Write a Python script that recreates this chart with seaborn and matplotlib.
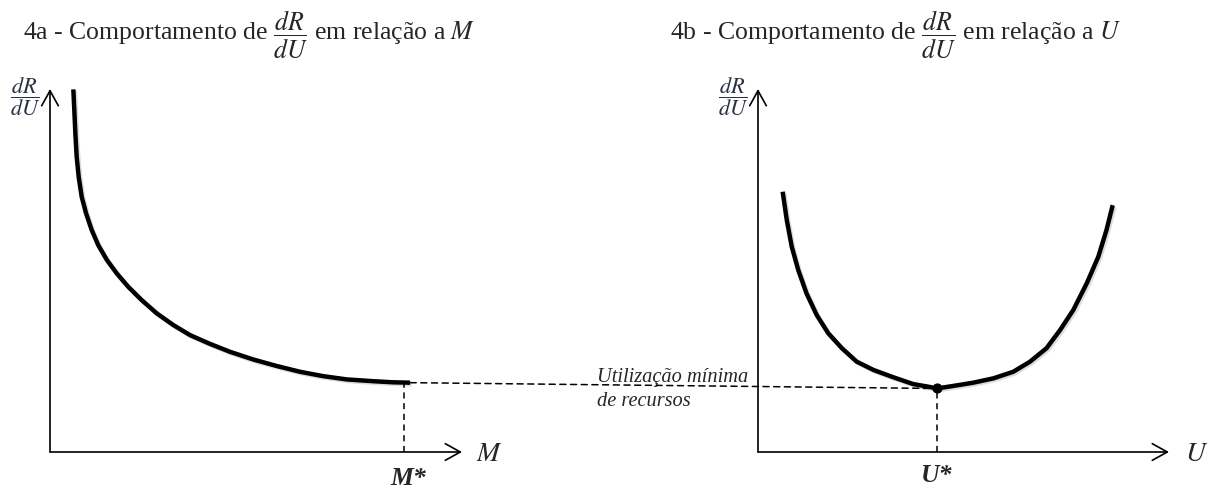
import numpy as np
import pandas as pd
import matplotlib
matplotlib.use("Agg")
import matplotlib.pyplot as plt
import matplotlib.patheffects as pe
from matplotlib.patches import ConnectionPatch
import seaborn as sns

# Curve 4a: dR/dU against M (decreasing)
m_vals = [0.566, 0.59, 0.615, 0.647, 0.696, 0.769, 0.874, 1.01, 1.17, 1.38, 1.62, 1.90, 2.22,
          2.59, 2.99, 3.40, 3.88, 4.37, 4.93, 5.50, 6.07, 6.63, 7.20, 7.85, 8.33, 8.74]
m_drdu = [9.99, 9.42, 8.78, 8.14, 7.58, 7.03, 6.58, 6.12, 5.70, 5.29, 4.92, 4.55, 4.19,
          3.82, 3.50, 3.22, 2.98, 2.76, 2.55, 2.37, 2.21, 2.09, 2.00, 1.95, 1.92, 1.91]
M_STAR = 8.59

# Curve 4b: dR/dU against U (U-shaped)
u_vals = [0.60, 0.70, 0.82, 0.98, 1.18, 1.43, 1.71, 2.04, 2.40, 2.81, 3.29, 3.78, 4.14,
          4.35, 4.75, 5.24, 5.73, 6.21, 6.62, 7.02, 7.35, 7.67, 8.00, 8.28, 8.48, 8.63]
u_drdu = [7.17, 6.39, 5.66, 5.01, 4.37, 3.77, 3.27, 2.86, 2.49, 2.26, 2.06, 1.87, 1.80,
          1.75, 1.82, 1.91, 2.03, 2.21, 2.49, 2.86, 3.36, 3.91, 4.65, 5.38, 6.12, 6.80]
U_STAR = 4.35
U_MIN = 1.75

titles = ["4a - Comportamento de $\\dfrac{dR}{dU}$ em relação a $M$",
          "4b - Comportamento de $\\dfrac{dR}{dU}$ em relação a $U$"]
xlabels = ["$M$", "$U$"]
starlab = ["M*", "U*"]
note = "Utilização mínima\nde recursos"

sns.set_theme(style="white")
plt.rcParams["font.family"] = ["Liberation Serif", "DejaVu Serif"]
plt.rcParams["mathtext.fontset"] = "stix"

W, H = 1214, 491
fig = plt.figure(figsize=(W / 100, H / 100), dpi=100)


def px_axes(x0, x1, ytop, ybot):
    return fig.add_axes([x0 / W, (H - ybot) / H, (x1 - x0) / W, (ybot - ytop) / H])


ax1 = px_axes(50, 462, 89, 452)
ax2 = px_axes(758, 1169, 89, 452)

df_m = pd.DataFrame({"x": m_vals, "y": m_drdu})
df_u = pd.DataFrame({"x": u_vals, "y": u_drdu})

shadow = [pe.SimpleLineShadow(offset=(1.2, -1.2), alpha=0.15, shadow_color="k"), pe.Normal()]
dash = dict(color="black", lw=1.1, ls=(0, (4, 3)))
arrow = dict(arrowstyle="->,head_length=0.9,head_width=0.5", lw=1.2, color="black",
             shrinkA=0, shrinkB=0)

for ax, df, xl in [(ax1, df_m, xlabels[0]), (ax2, df_u, xlabels[1])]:
    ax.set_xlim(0, 10)
    ax.set_ylim(0, 10)
    ax.axis("off")
    ax.annotate("", xy=(10, 0), xytext=(0, 0), arrowprops=arrow, annotation_clip=False)
    ax.annotate("", xy=(0, 10), xytext=(0, 0), arrowprops=arrow, annotation_clip=False)
    sns.lineplot(data=df, x="x", y="y", sort=False, ax=ax, color="black", lw=3.2, legend=False)
    for ln in ax.lines:
        ln.set_path_effects(shadow)
        ln.set_solid_capstyle("butt")
        ln.set_solid_joinstyle("round")
        ln.set_clip_on(False)
    ax.text(10.66, -0.08, xl, fontsize=20, ha="center", va="center")
    ax.text(-0.61, 9.78, "$\\dfrac{dR}{dU}$", fontsize=16, ha="center", va="center",
            color="#2a2f45")

ax1.plot([M_STAR, M_STAR], [0, m_drdu[-1]], **dash)
ax1.text(M_STAR + 0.1, -0.72, starlab[0], fontsize=18.5, fontweight="bold",
         fontstyle="italic", ha="center", va="center")

ax2.plot([U_STAR, U_STAR], [0, U_MIN], **dash)
ax2.scatter([U_STAR], [U_MIN], s=40, color="black", zorder=5, clip_on=False)
ax2.text(U_STAR, -0.65, starlab[1], fontsize=18.5, fontweight="bold", fontstyle="italic",
         ha="center", va="center")
ax2.text(-3.92, 1.72, note, fontsize=14.7, fontstyle="italic", ha="left", va="center",
         linespacing=1.3)

con = ConnectionPatch(xyA=(m_vals[-1], m_drdu[-1]), coordsA="data", axesA=ax1,
                      xyB=(U_STAR, U_MIN), coordsB="data", axesB=ax2, **dash)
fig.add_artist(con)

fig.text(23 / W, 1 - 35 / H, titles[0], fontsize=18.5, ha="left", va="center")
fig.text(670 / W, 1 - 35 / H, titles[1], fontsize=18.5, ha="left", va="center")

fig.savefig("out.png", dpi=100, facecolor="white")
